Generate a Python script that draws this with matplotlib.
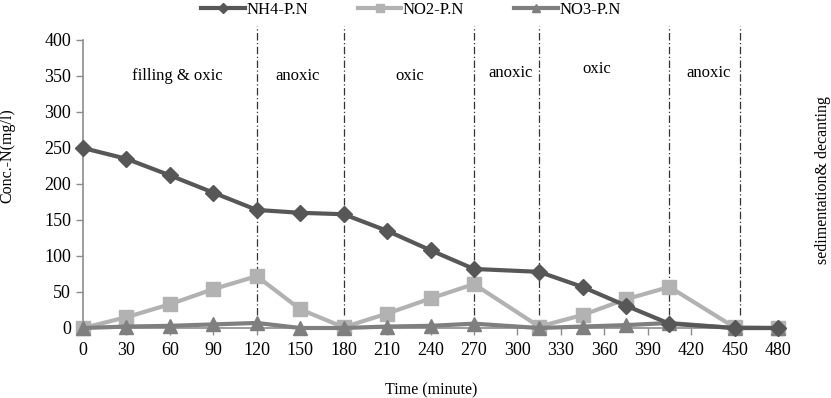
import matplotlib
matplotlib.use("Agg")
import matplotlib.pyplot as plt
from matplotlib.lines import Line2D

plt.rcParams['font.family'] = ['Liberation Serif', 'DejaVu Serif']

time = [0, 30, 60, 90, 120, 150, 180, 210, 240, 270, 315, 345, 375, 405, 450, 480]
nh4 = [250, 235, 212, 188, 164, 160, 158, 135, 108, 82, 78, 57, 31, 6, 0, 0]
no2 = [0, 15, 33, 54, 72, 26, 1, 20, 41, 61, 2, 18, 40, 57, 1, 0]
no3 = [0, 2, 3, 5, 7, 0, 0, 2, 3, 6, 0, 2, 4, 7, 0, 0]
xticks = [0, 30, 60, 90, 120, 150, 180, 210, 240, 270, 300, 330, 360, 390, 420, 450, 480]
boundaries = [120, 180, 270, 315, 405, 454]
phase_labels = ["filling & oxic", "anoxic", "oxic", "anoxic", "oxic", "anoxic"]
phase_x = [65, 148, 226, 295, 355, 432]
phase_y = [350, 350, 350, 354, 360, 354]

c_nh4 = '#575757'
c_no2 = '#b2b2b2'
c_no3 = '#7f7f7f'
axis_c = '#8c8c8c'

fig = plt.figure(figsize=(8.31, 3.98), dpi=100)
ax = fig.add_axes([83/831, 1-328/398, (778-83)/831, (328-40)/398])

ax.plot(time, no3, color=c_no3, lw=3, marker='^', ms=10, zorder=4, clip_on=False, label='NO3-P.N')
ax.plot(time, no2, color=c_no2, lw=3, marker='s', ms=10, zorder=3, clip_on=False, label='NO2-P.N')
ax.plot(time, nh4, color=c_nh4, lw=3, marker='D', ms=8, zorder=5, clip_on=False, label='NH4-P.N')

for b in boundaries:
    ax.plot([b, b], [18, 420], color='#333333', lw=0.9, ls='-.', dashes=(6, 2, 1, 2),
            clip_on=False, zorder=2)

for t, x, y in zip(phase_labels, phase_x, phase_y):
    ax.text(x, y, t, ha='center', va='center', fontsize=12)

ax.set_xlim(0, 480)
ax.set_ylim(0, 400)
ax.set_xticks(xticks)
ax.set_xticklabels([str(v) for v in xticks], fontsize=13)
ax.set_yticks(range(0, 401, 50))
ax.set_yticklabels([str(v) for v in range(0, 401, 50)], fontsize=13)
for s in ['top', 'right']:
    ax.spines[s].set_visible(False)
for s in ['left', 'bottom']:
    ax.spines[s].set_color(axis_c)
    ax.spines[s].set_linewidth(1.2)
ax.tick_params(axis='both', colors=axis_c, labelcolor='black', length=5, width=1.0)
ax.tick_params(axis='x', pad=5)

fig.text(7/831, 1-156/398, 'Conc.-N(mg/l)', rotation=90, ha='center', va='center', fontsize=11.5)
fig.text(431/831, 1-390/398, 'Time (minute)', ha='center', va='center', fontsize=11.5)

fig.text(823/831, 1-180/398, 'sedimentation& decanting', rotation=90,
         ha='center', va='center', fontsize=11.5)

handles = [Line2D([], [], color=c_nh4, lw=3, marker='D', ms=5),
           Line2D([], [], color=c_no2, lw=3, marker='s', ms=6),
           Line2D([], [], color=c_no3, lw=3, marker='^', ms=6)]
fig.legend(handles, ['NH4-P.N', 'NO2-P.N', 'NO3-P.N'], loc='center',
           bbox_to_anchor=(411/831, 1-10/398), ncol=3, frameon=False, fontsize=12,
           handlelength=2.6, handletextpad=0.1, columnspacing=3.0,
           borderaxespad=0, borderpad=0)

fig.savefig('out.png', dpi=100)
